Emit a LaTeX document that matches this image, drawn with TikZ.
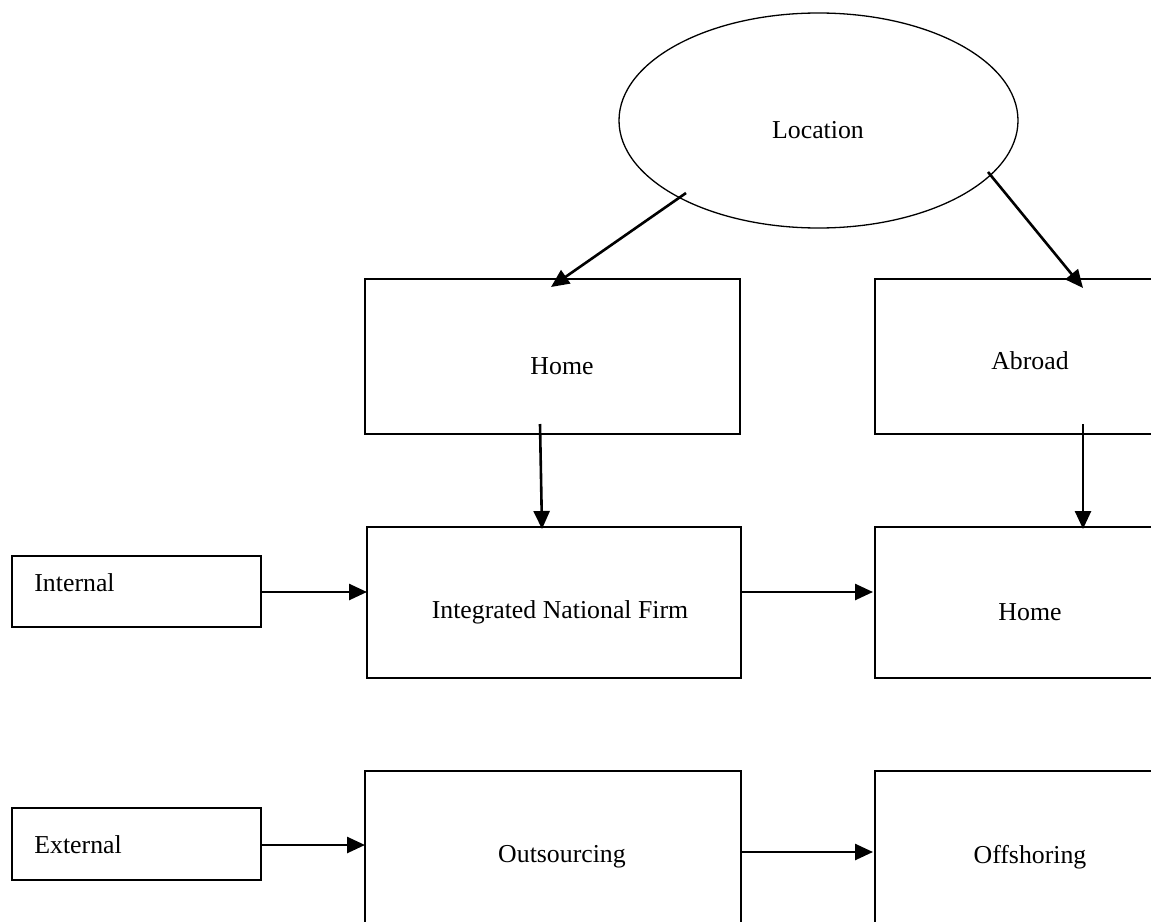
\documentclass[tikz,border=0pt]{standalone}
\usepackage{fontspec}
\setmainfont{Liberation Serif}
\usetikzlibrary{shapes.geometric,arrows.meta,calc}
\begin{document}
\begin{tikzpicture}[x=0.5pt,y=-0.5pt,
  boxshape/.style={draw, line width=0.9pt, rectangle, inner sep=0pt, outer sep=0pt},
  lbl/.style={font=\fontsize{12.9}{15}\selectfont, inner sep=0pt, anchor=center},
  arr/.style={line width=1.3pt, -{Triangle[length=9pt,width=8pt]}}]
\useasboundingbox (0,0) rectangle (1151,921);
\clip (0,0) rectangle (1151,921);
\fill[white] (0,0) rectangle (1151,921);
% ellipse
\node[ellipse, draw, line width=0.65pt, minimum width=199.5pt, minimum height=107.5pt, inner sep=0pt] (loc) at (818.5,120.5) {};
\node[lbl] (loct) at (818,130) {Location};
% boxes
\node[boxshape, minimum width=187.5pt, minimum height=77.5pt] (home) at (552.5,356.5) {};
\node[lbl] (homet) at (562,366) {Home};
\node[boxshape, minimum width=187.5pt, minimum height=77.5pt] (abroad) at (1062.5,356.5) {};
\node[lbl] (abroadt) at (1030,361) {Abroad};
\node[boxshape, minimum width=187pt, minimum height=75.5pt] (inf) at (554,602.5) {};
\node[lbl] (inft) at (560,612) {Integrated National Firm};
\node[boxshape, minimum width=187.5pt, minimum height=75.5pt] (home2) at (1062.5,602.5) {};
\node[lbl] (home2t) at (1030,612) {Home};
\node[boxshape, minimum width=124.5pt, minimum height=35.5pt] (int) at (136.5,591.5) {};
\node[lbl, anchor=west] (intt) at (34,583) {Internal};
\node[boxshape, minimum width=124.5pt, minimum height=36pt] (ext) at (136.5,844) {};
\node[lbl, anchor=west] (extt) at (34,845) {External};
\node[boxshape, minimum width=188pt, minimum height=114.5pt] (out) at (553,885.5) {};
\node[lbl] (outt) at (562,857) {Outsourcing};
\node[boxshape, minimum width=187.5pt, minimum height=114.5pt] (off) at (1062.5,885.5) {};
\node[lbl] (offt) at (1030,857) {Offshoring};
% arrow start points
\coordinate (s1) at (686,193);
\coordinate (e1) at (551,287);
\coordinate (s2) at (988,172);
\coordinate (e2) at (1083,288);
\coordinate (s3) at (540,424);
\coordinate (s4) at (1083,424);
\coordinate (s5) at (int.east |- 0,592);
\coordinate (s6) at (inf.east |- 0,592);
\coordinate (s7) at (ext.east |- 0,845);
\coordinate (s8) at (out.east |- 0,852);
% connectors
\draw[arr] (s1) -- (e1);
\draw[arr] (s2) -- (e2);
\draw[arr] (s3) -- ($(inf.north -| 542,0)+(0,2)$);
\draw[arr] (s4) -- ($(home2.north -| s4)+(0,2)$);
\draw[arr] (s5) -- (inf.west |- s5);
\draw[arr] (s6) -- ($(home2.west |- s6)+(-2,0)$);
\draw[arr] (s7) -- (out.west |- s7);
\draw[arr] (s8) -- ($(off.west |- s8)+(-2,0)$);
\end{tikzpicture}
\end{document}
